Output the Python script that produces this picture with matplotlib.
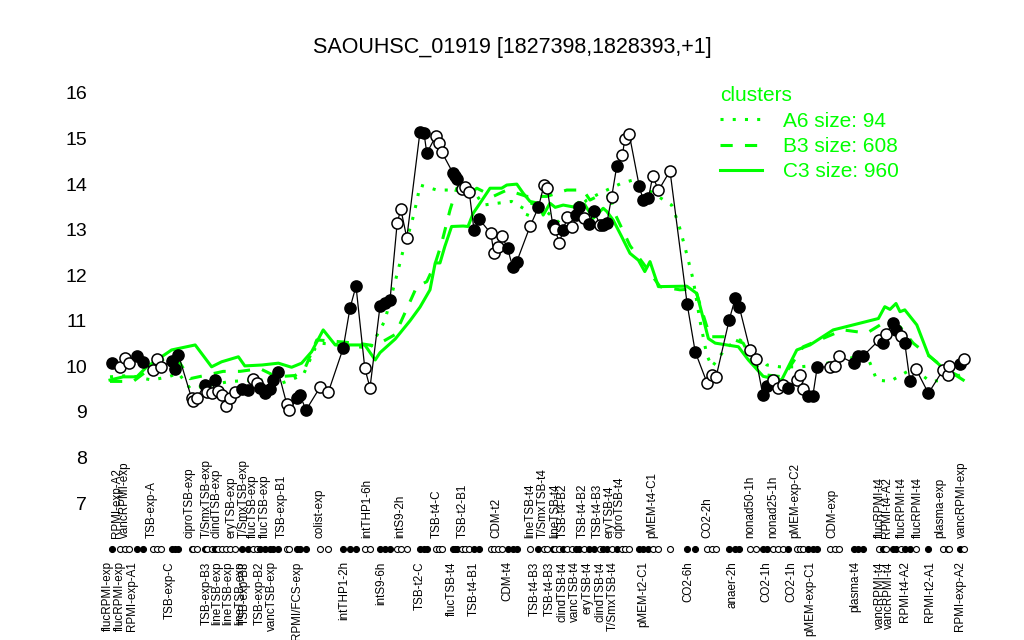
import matplotlib
matplotlib.use("Agg")
import matplotlib.pyplot as plt
from matplotlib.lines import Line2D

plt.rcParams['font.family'] = ['Liberation Sans', 'DejaVu Sans']

GREEN = '#00FF00'

# =========================
# DATA
# =========================
# position of each sample along the condition order, expression value, filled marker flag
sample_pos = [2.9, 5.0, 6.2, 7.3, 9.2, 10.8, 13.2, 14.2, 15.2, 17.9,
              18.8, 19.6, 22.9, 23.2, 24.2, 26.2, 26.7, 27.9, 28.8, 29.6,
              30.4, 31.5, 32.5, 33.8, 35.4, 37.1, 38.3, 39.2, 40.0, 41.2,
              42.5, 43.3, 44.6, 46.7, 47.3, 49.2, 50.0, 51.5, 55.0, 57.1,
              60.8, 62.5, 64.0, 66.2, 67.5, 70.0, 71.2, 72.5, 74.3, 75.2,
              76.7, 80.0, 81.0, 81.7, 84.0, 84.8, 85.4, 88.2, 88.8, 89.3,
              90.4, 91.2, 92.3, 93.5, 94.8, 97.7, 98.5, 99.6, 100.4, 101.9,
              103.2, 104.2, 107.5, 109.6, 111.0, 111.8, 113.2, 113.8, 114.8, 115.8,
              116.8, 118.1, 119.0, 119.8, 121.0, 122.3, 123.5, 125.0, 125.8, 126.7,
              127.9, 129.2, 130.6, 131.2, 132.3, 134.8, 135.8, 137.1, 138.2, 139.6,
              142.5, 146.8, 148.8, 151.8, 152.9, 154.0, 157.3, 158.8, 159.8, 162.5,
              164.0, 165.7, 166.7, 168.2, 169.6, 170.7, 172.1, 174.2, 175.0, 175.8,
              177.1, 178.2, 179.3, 182.5, 183.8, 184.8, 188.5, 189.6, 190.8, 194.8,
              195.8, 196.5, 198.2, 199.0, 200.2, 201.2, 202.5, 204.0, 207.1, 210.7,
              212.1, 212.3, 215.0, 216.0]
sample_expr = [10.07, 9.99, 10.18, 10.07, 10.23, 10.09, 9.92, 10.16, 9.98, 10.12,
               9.95, 10.26, 9.30, 9.25, 9.31, 9.59, 9.44, 9.42, 9.70, 9.46,
               9.37, 9.13, 9.30, 9.44, 9.50, 9.48, 9.72, 9.63, 9.52, 9.41,
               9.50, 9.70, 9.87, 9.17, 9.04, 9.30, 9.37, 9.04, 9.54, 9.44,
               10.40, 11.28, 11.76, 9.96, 9.53, 11.32, 11.40, 11.45, 13.15, 13.45,
               12.82, 15.15, 15.12, 14.68, 15.06, 14.91, 14.71, 14.25, 14.18, 14.11,
               13.89, 13.94, 13.83, 13.00, 13.23, 12.92, 12.48, 12.63, 12.87, 12.59,
               12.17, 12.30, 13.07, 13.49, 13.98, 13.91, 13.10, 13.01, 12.70, 12.99,
               13.27, 13.05, 13.32, 13.49, 13.25, 13.12, 13.42, 13.10, 13.10, 13.14,
               13.71, 14.40, 14.64, 14.98, 15.10, 13.96, 13.65, 13.69, 14.18, 13.86,
               14.29, 11.36, 10.32, 9.63, 9.81, 9.76, 11.02, 11.49, 11.31, 10.36,
               10.16, 9.38, 9.56, 9.70, 9.52, 9.59, 9.52, 9.70, 9.81, 9.50,
               9.35, 9.35, 9.98, 9.99, 10.01, 10.23, 10.07, 10.23, 10.23, 10.58,
               10.51, 10.71, 10.95, 10.80, 10.67, 10.51, 9.67, 9.94, 9.41, 9.91,
               9.81, 10.01, 10.05, 10.16]
sample_filled = [1, 0, 0, 0, 1, 1, 0, 0, 0, 1,
                 1, 1, 0, 0, 0, 1, 0, 0, 1, 0,
                 0, 0, 0, 0, 1, 1, 0, 0, 1, 1,
                 1, 1, 1, 0, 0, 1, 1, 1, 0, 0,
                 1, 1, 1, 0, 0, 1, 1, 1, 0, 0,
                 0, 1, 1, 1, 0, 0, 0, 1, 1, 1,
                 0, 0, 0, 1, 1, 0, 0, 0, 0, 1,
                 1, 1, 0, 1, 0, 0, 1, 0, 0, 1,
                 0, 0, 1, 1, 0, 1, 1, 0, 1, 1,
                 0, 1, 0, 0, 0, 1, 1, 1, 0, 0,
                 0, 1, 1, 0, 0, 0, 1, 1, 1, 0,
                 0, 1, 1, 0, 0, 0, 1, 0, 0, 0,
                 1, 1, 1, 0, 0, 0, 1, 1, 1, 0,
                 1, 0, 1, 1, 0, 1, 1, 0, 1, 0,
                 0, 0, 1, 0]

# cluster mean profiles
a6_pos = [2.5, 7.5, 12.9, 17.1, 19.6, 22.5, 25.8, 32.5, 40.8, 44.2,
          47.5, 50.8, 53.8, 55.0, 62.5, 67.5, 71.2, 74.2, 75.8, 77.9,
          79.2, 80.0, 84.2, 86.7, 93.3, 95.8, 102.9, 105.8, 106.7, 108.3,
          115.0, 121.7, 125.0, 130.4, 133.3, 138.3, 142.9, 144.6, 146.2, 148.3,
          150.0, 151.7, 153.0, 156.7, 160.0, 164.2, 166.7, 170.0, 175.0, 180.0,
          185.0, 191.7, 194.2, 197.5, 203.3, 207.5, 211.7, 215.0]
a6_expr = [9.77, 9.80, 9.70, 9.77, 9.85, 9.52, 9.56, 9.67, 9.70, 9.59,
           9.70, 9.81, 10.40, 10.51, 10.45, 10.40, 11.00, 12.00, 12.55, 13.14,
           13.62, 13.98, 13.87, 13.87, 13.87, 13.54, 13.62, 13.47, 13.29, 13.65,
           13.14, 13.65, 13.80, 14.02, 14.09, 13.80, 13.54, 13.14, 12.63, 11.90,
           11.00, 10.25, 9.99, 10.43, 10.58, 10.29, 10.03, 9.99, 9.99, 10.03,
           10.14, 10.25, 9.70, 9.67, 9.96, 9.67, 9.70, 9.81]

b3_pos = [2.5, 8.3, 12.5, 16.7, 20.0, 22.5, 26.2, 30.8, 35.0, 40.0,
          44.2, 48.8, 51.2, 54.2, 58.8, 65.0, 68.8, 73.8, 79.2, 81.7,
          83.8, 85.4, 87.5, 89.2, 91.7, 94.2, 98.3, 101.7, 106.7, 111.7,
          116.7, 120.8, 122.5, 125.0, 127.5, 129.0, 132.5, 135.8, 140.0, 145.0,
          148.8, 152.5, 156.7, 160.8, 163.3, 166.7, 170.8, 175.8, 185.8, 191.7,
          195.8, 200.0, 203.3, 207.5, 211.7, 215.8]
b3_expr = [9.67, 9.67, 9.95, 10.21, 10.07, 9.73, 9.80, 9.89, 9.89, 9.95,
           9.77, 9.80, 9.95, 10.58, 10.55, 10.50, 10.45, 10.70, 11.75, 11.86,
           12.26, 12.70, 13.43, 13.91, 13.73, 13.91, 13.73, 13.87, 13.73, 13.73,
           13.87, 13.87, 13.65, 13.76, 13.73, 13.30, 12.65, 12.26, 11.75, 11.68,
           11.70, 10.65, 10.65, 10.51, 10.07, 9.81, 9.77, 10.43, 10.80, 10.73,
           10.95, 10.87, 10.51, 10.21, 9.92, 9.74]

c3_pos = [2.5, 5.8, 9.2, 11.7, 17.9, 23.8, 27.9, 30.4, 34.6, 36.2,
          40.5, 44.6, 47.9, 50.4, 52.9, 55.8, 58.8, 62.5, 66.2, 68.8,
          70.0, 73.8, 77.5, 80.0, 82.5, 83.8, 85.0, 86.2, 87.9, 90.8,
          92.0, 93.3, 95.0, 97.5, 100.4, 101.7, 104.2, 105.8, 107.5, 109.6,
          110.8, 112.5, 113.8, 115.8, 118.3, 119.6, 121.2, 123.3, 125.8, 126.7,
          128.3, 130.4, 132.5, 134.6, 136.2, 137.5, 139.6, 146.7, 149.2, 152.1,
          153.8, 159.6, 162.1, 165.8, 170.4, 174.2, 177.5, 183.3, 188.3, 194.6,
          196.2, 197.5, 199.0, 200.0, 201.2, 204.2, 207.1, 210.8, 214.2, 215.8]
c3_expr = [9.70, 9.77, 9.77, 9.99, 10.36, 10.47, 9.99, 10.10, 10.21, 10.01,
           10.03, 10.07, 9.98, 10.07, 10.32, 10.80, 10.47, 10.47, 10.47, 10.14,
           10.30, 10.60, 11.00, 11.30, 11.68, 12.27, 12.27, 12.63, 13.07, 13.08,
           13.07, 13.36, 13.58, 13.91, 13.91, 13.98, 14.00, 13.80, 13.62, 13.58,
           13.32, 13.58, 13.49, 13.54, 13.50, 13.60, 13.55, 13.25, 13.47, 13.40,
           13.21, 12.85, 12.48, 12.33, 12.08, 12.30, 11.75, 11.76, 11.60, 10.61,
           10.51, 10.43, 10.14, 9.78, 9.70, 10.36, 10.47, 10.80, 10.91, 11.05,
           11.31, 11.25, 11.38, 11.20, 11.24, 10.91, 10.25, 9.96, 9.79, 9.70]

cluster_names = ['A6 size: 94', 'B3 size: 608', 'C3 size: 960']

top_labels = ['RPMI-exp-A2', 'vancRPMI-exp', 'TSB-exp-A', 'ciproTSB-exp', 'T/SmxTSB-exp',
              'clindTSB-exp', 'eryTSB-exp', 'T/SmxTSB-exp', 'flucTSB-exp', 'flucTSB-exp',
              'TSB-exp-B1', 'colist-exp', 'intTHP1-6h', 'intS9-2h', 'TSB-t4-C',
              'TSB-t2-B1', 'CDM-t2', 'lineTSB-t4', 'T/SmxTSB-t4', 'lineTSB-t4',
              'TSB-t4-B2', 'TSB-t4-B2', 'TSB-t4-B3', 'eryTSB-t4', 'ciproTSB-t4',
              'pMEM-t4-C1', 'CO2-2h', 'nonad50-1h', 'nonad25-1h', 'pMEM-exp-C2',
              'CDM-exp', 'flucRPMI-t4', 'RPMI-t4-A2', 'flucRPMI-t4', 'flucRPMI-t4',
              'plasma-exp', 'vancRPMI-exp']
top_label_pos = [4.2, 6.2, 13.0, 22.5, 26.8, 29.2, 33.0, 36.0, 38.2, 41.2,
                 45.5, 55.0, 66.8, 75.0, 84.2, 90.8, 99.2, 107.5, 110.8, 113.8,
                 115.8, 120.8, 124.5, 127.5, 130.0, 138.0, 151.8, 162.5, 168.2, 173.8,
                 183.0, 195.0, 196.8, 200.5, 204.5, 210.0, 215.5]

bottom_labels = ['flucRPMI-exp', 'flucRPMI-exp', 'RPMI-exp-A1', 'TSB-exp-C', 'TSB-exp-B3',
                 'lineTSB-exp', 'lineTSB-exp', 'lineTSB-exp', 'TSB-exp-B3', 'TSB-exp-B2',
                 'vancTSB-exp', 'RPMI/FCS-exp', 'intTHP1-2h', 'intS9-6h', 'TSB-t2-C',
                 'flucTSB-t4', 'TSB-t4-B1', 'CDM-t4', 'TSB-t4-B3', 'TSB-t4-B3',
                 'clindTSB-t4', 'vancTSB-t4', 'eryTSB-t4', 'clindTSB-t4', 'T/SmxTSB-t4',
                 'pMEM-t2-C1', 'CO2-6h', 'anaer-2h', 'CO2-1h', 'CO2-1h',
                 'pMEM-exp-C1', 'plasma-t4', 'vancRPMI-t4', 'vancRPMI-t4', 'RPMI-t4-A2',
                 'RPMI-t2-A1', 'RPMI-exp-A2']
bottom_label_pos = [2.0, 5.0, 8.0, 17.5, 26.8, 29.2, 32.0, 35.0, 36.2, 40.0,
                    43.0, 49.2, 61.0, 70.2, 80.0, 88.0, 93.5, 101.8, 108.8, 112.5,
                    115.5, 118.8, 122.0, 125.0, 128.2, 135.8, 147.0, 158.2, 166.5, 172.8,
                    177.5, 188.8, 195.0, 197.2, 201.2, 207.5, 215.0]

# =========================
# PLOT
# =========================
fig = plt.figure(figsize=(10.24, 6.4), dpi=100)
ax = fig.add_axes([0, 0, 1, 1])
ax.set_xlim(-25, 231)
ax.set_ylim(3.994, 18.041)

styles = [(0, (1, 3)), (0, (4, 4)), '-']
for (px, py), ls in zip([(a6_pos, a6_expr), (b3_pos, b3_expr), (c3_pos, c3_expr)], styles):
    ax.plot(px, py, color=GREEN, ls=ls, lw=2.2, zorder=1)

ax.plot(sample_pos, sample_expr, color='black', lw=0.9, zorder=2)
for x, y, f in zip(sample_pos, sample_expr, sample_filled):
    fc = 'black' if f else 'white'
    ax.plot(x, y, 'o', ms=8, mfc=fc, mec='black', mew=1.1, zorder=3)
    ax.plot(x, 6.0, 'o', ms=4.3, mfc=fc, mec='black', mew=0.8, zorder=3)

for lab, x in zip(top_labels, top_label_pos):
    ax.text(x, 6.24, lab, rotation=90, ha='center', va='bottom', fontsize=8.4)
for lab, x in zip(bottom_labels, bottom_label_pos):
    ax.text(x, 5.72, lab, rotation=90, ha='center', va='top', fontsize=8.4)

# y labels only, no axis line
for s in ['top', 'right', 'bottom', 'left']:
    ax.spines[s].set_visible(False)
ax.spines['left'].set_position(('data', -2.5))
ax.set_xticks([])
ax.set_yticks(range(7, 17))
ax.tick_params(axis='y', length=0, pad=2, labelsize=14)

fig.text(0.5, 1 - 47 / 640, 'SAOUHSC_01919 [1827398,1828393,+1]',
         ha='center', va='center', fontsize=15.5)

handles = [Line2D([], [], color=GREEN, ls=ls, lw=2.2) for ls in styles]
leg = ax.legend(handles, cluster_names, title='clusters', loc='upper left',
                bbox_to_anchor=(712 / 1024, 1 - 78 / 640), frameon=False,
                labelcolor=GREEN, fontsize=15, title_fontsize=15,
                alignment='left', handlelength=2.0, handletextpad=1.0,
                labelspacing=0.3, borderaxespad=0)
leg.get_title().set_color(GREEN)

plt.savefig('out.png', dpi=100)
plt.close()
